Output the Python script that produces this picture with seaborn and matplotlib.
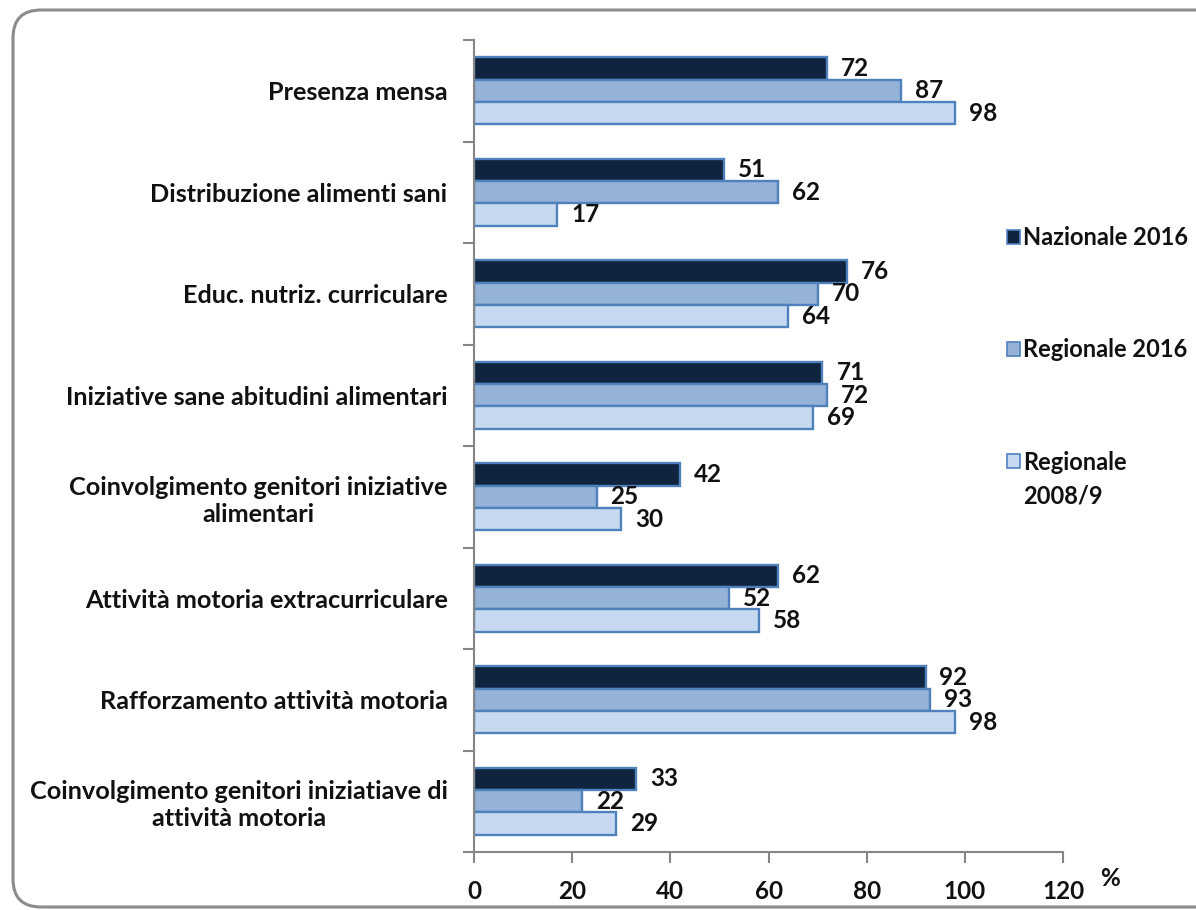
import matplotlib
matplotlib.use("Agg")
import matplotlib.pyplot as plt
from matplotlib.patches import FancyBboxPatch, Patch
from matplotlib.transforms import IdentityTransform
from matplotlib.ticker import FixedLocator
import seaborn as sns
import pandas as pd

categories = [
    "Presenza mensa",
    "Distribuzione alimenti sani",
    "Educ. nutriz. curriculare",
    "Iniziative sane abitudini alimentari",
    "Coinvolgimento genitori iniziative\nalimentari",
    "Attività motoria extracurriculare",
    "Rafforzamento attività motoria",
    "Coinvolgimento genitori iniziatiave di\nattività motoria",
]
series = ["Nazionale 2016", "Regionale 2016", "Regionale\n2008/9"]
nazionale_2016 = [72, 51, 76, 71, 42, 62, 92, 33]
regionale_2016 = [87, 62, 70, 72, 25, 52, 93, 22]
regionale_2008 = [98, 17, 64, 69, 30, 58, 98, 29]
x_ticks = [0, 20, 40, 60, 80, 100, 120]

colors = ["#10243F", "#95B3D7", "#C6D9F1"]
edge = "#4F81BD"
axis_gray = "#868686"
text_color = "#111111"

rows = []
for name, vals in zip(series, [nazionale_2016, regionale_2016, regionale_2008]):
    for cat, v in zip(categories, vals):
        rows.append({"categoria": cat, "serie": name, "valore": v})
df = pd.DataFrame(rows)

sns.set_theme(style="white")
plt.rcParams["font.family"] = ["Lato", "DejaVu Sans"]

W, H = 1196, 910
fig = plt.figure(figsize=(W / 100, H / 100), dpi=100)
ax = fig.add_axes([474 / W, 1 - 852 / H, (1063 - 474) / W, (852 - 40) / H])

sns.barplot(
    data=df, y="categoria", x="valore", hue="serie", orient="h",
    palette=colors, width=0.66, edgecolor=edge, linewidth=1.7,
    order=categories, hue_order=series, legend=False, ax=ax, saturation=1,
)

for cont in ax.containers:
    ax.bar_label(cont, fmt="%d", padding=10, fontsize=17.5, fontweight="bold",
                 color=text_color)

ax.set_xlim(0, 120)
ax.set_ylim(len(categories) - 0.5, -0.5)
ax.xaxis.set_major_locator(FixedLocator(x_ticks))
ax.set_xticklabels([str(t) for t in x_ticks])
ax.set_xlabel("")
ax.set_ylabel("")

for s in ["top", "right"]:
    ax.spines[s].set_visible(False)
for s in ["left", "bottom"]:
    ax.spines[s].set_color(axis_gray)
    ax.spines[s].set_linewidth(1.5)

# tick marks on category boundaries, labels at category centres
ax.yaxis.set_minor_locator(FixedLocator([i - 0.5 for i in range(len(categories) + 1)]))
ax.tick_params(axis="y", which="major", length=0, pad=19, labelsize=18.2,
               labelcolor=text_color)
ax.tick_params(axis="y", which="minor", left=True, length=8, width=1.5,
               color=axis_gray, direction="out")
ax.tick_params(axis="x", which="major", bottom=True, length=8, width=1.5,
               color=axis_gray, direction="out", pad=12, labelsize=17.5,
               labelcolor=text_color)
for lbl in ax.get_yticklabels():
    lbl.set_fontweight("bold")
    lbl.set_multialignment("center")
for lbl in ax.get_xticklabels():
    lbl.set_fontweight("bold")

fig.text(1110 / W, 1 - 878 / H, "%", fontsize=17.5, fontweight="bold",
         color=text_color, ha="center", va="center")

# legend: the square sits beside the first line of each entry,
# so the wrapped part of the last label goes on its own line below
first_lines = [s.split("\n")[0] for s in series]
handles = [Patch(facecolor=c, edgecolor=edge, linewidth=1.2) for c in colors]
leg_prop = {"size": 17, "weight": "bold"}
leg = fig.legend(handles, first_lines, loc="upper left",
                 bbox_to_anchor=(1007 / W, 1 - 226 / H), frameon=False,
                 prop=leg_prop, labelcolor=text_color,
                 handlelength=0.55, handleheight=0.55, handletextpad=0.12,
                 labelspacing=3.78, borderaxespad=0, borderpad=0)

fig.canvas.draw()
renderer = fig.canvas.get_renderer()
for txt, full in zip(leg.get_texts(), series):
    extra = full.split("\n")[1:]
    if not extra:
        continue
    bb = txt.get_window_extent(renderer)
    for k, line in enumerate(extra, start=1):
        fig.text(bb.x0, bb.y0 - 34 * k, line, transform=IdentityTransform(),
                 fontsize=17, fontweight="bold", color=text_color,
                 ha="left", va="bottom")

border = FancyBboxPatch((13, 3), 1250, 897,
                        boxstyle="round,pad=0,rounding_size=28",
                        transform=IdentityTransform(), facecolor="none",
                        edgecolor="#8C8C8C", linewidth=2.2, clip_on=False)
fig.patches.append(border)

fig.savefig("out.png", dpi=100, facecolor="white")
